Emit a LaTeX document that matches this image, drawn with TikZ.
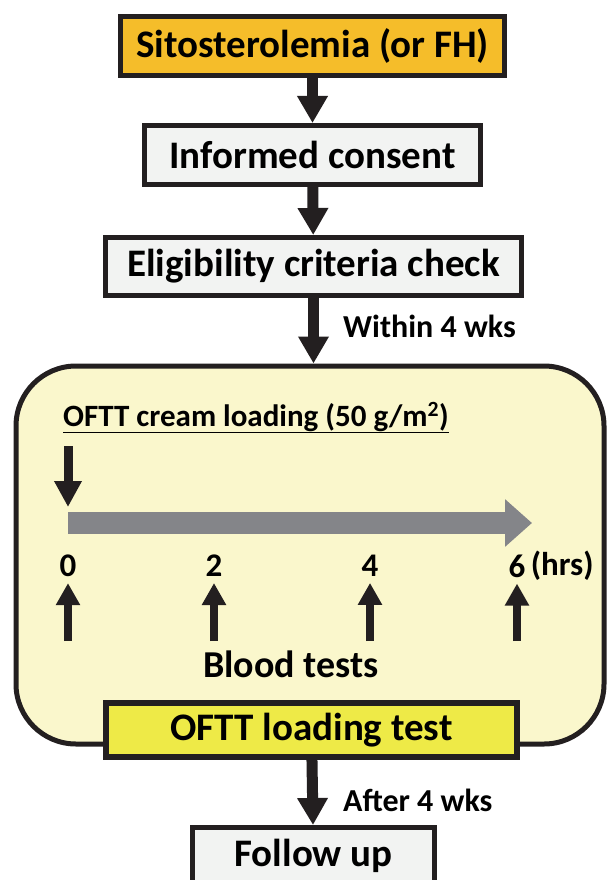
\documentclass[tikz,border=0pt]{standalone}
\usepackage{fontspec}
\setmainfont{Carlito}
\usepackage{tikz}
\usetikzlibrary{positioning}
\usetikzlibrary{shapes,arrows,calc,arrows.meta}

\definecolor{boxorange}{HTML}{F5BD2A}
\definecolor{boxgray}{HTML}{F2F3F2}
\definecolor{panelyellow}{HTML}{FAF7CC}
\definecolor{testyellow}{HTML}{EEEA47}
\definecolor{timegray}{HTML}{848589}
\definecolor{ink}{HTML}{231F20}

\begin{document}
\begin{tikzpicture}[x=1pt, y=-1pt,
  stepbox/.style={draw=ink, line width=5pt, rectangle, inner sep=0pt,
    font=\fontsize{39}{42}\selectfont\bfseries},
  bigarrow/.style={draw=ink, line width=11pt, -{Triangle[width=29pt,length=27pt]}},
  smallarrow/.style={draw=ink, line width=8pt, -{Triangle[width=23pt,length=22pt]}},
  note/.style={font=\fontsize{32}{35}\selectfont\bfseries, inner sep=0pt}]
  \useasboundingbox (0,0) rectangle (611,880);

  % Panel
  \node [draw=ink, line width=5pt, fill=panelyellow, rounded corners=60pt,
    minimum width=588pt, minimum height=378pt, inner sep=0pt] (panel) at (310,555) {};

  % Nodes
  \node [stepbox, fill=boxorange, minimum width=384pt, minimum height=59pt] (sito) at (312.5,46) {Sitosterolemia (or FH)};
  \node [stepbox, fill=boxgray, minimum width=336pt, minimum height=59pt] (consent) at (312.5,155) {Informed consent};
  \node [stepbox, fill=boxgray, minimum width=416pt, minimum height=58pt] (elig) at (313.5,266.5) {Eligibility criteria check};
  \node [stepbox, line width=6pt, fill=testyellow, minimum width=411pt, minimum height=54pt] (oftt) at (311.5,730) {OFTT loading test};
  \node [stepbox, fill=boxgray, minimum width=242pt, minimum height=57pt] (follow) at (313.5,856) {Follow up};

  % Labels
  \node [note, anchor=west] (within) at (343,326) {Within 4 wks};
  \node [note, anchor=west] (after) at (343,800) {After 4 wks};
  \node [note, anchor=west, font=\fontsize{31}{34}\selectfont\bfseries] (cream) at (63,418) {\underline{OFTT cream loading (50 g/m\textsuperscript{2})}};
  \node [note, font=\fontsize{38}{41}\selectfont\bfseries] (blood) at (291,664) {Blood tests};

  % Arrows
  \draw [bigarrow] (sito) -- (consent);
  \draw [bigarrow] (consent) -- (elig);
  \draw [bigarrow] (elig.south) -- (elig.south |- panel.north);
  \draw [bigarrow] (oftt) -- (follow);

  % Time line
  \coordinate (g0) at (68,523);
  \coordinate (g1) at (532,523);
  \draw [draw=timegray, line width=22pt, -{Triangle[width=46pt,length=27pt]}] (g0) -- (g1);
  \coordinate (load) at (68,446);
  \draw [smallarrow, line width=9pt, -{Triangle[width=26pt,length=26pt]}] (load) -- (68,507);

  \foreach \t/\x in {0/68,2/214,4/370,6/517} {
    \node [note, font=\fontsize{33}{36}\selectfont\bfseries] (t\t) at (\x,566) {\t};
    \coordinate (b\t) at (\x,641);
    \draw [smallarrow] (b\t) -- ([yshift=-6pt]t\t.south);
  }
  \node [note, font=\fontsize{33}{36}\selectfont\bfseries, right=5pt of t6] (hrs) {(hrs)};
\end{tikzpicture}
\end{document}
